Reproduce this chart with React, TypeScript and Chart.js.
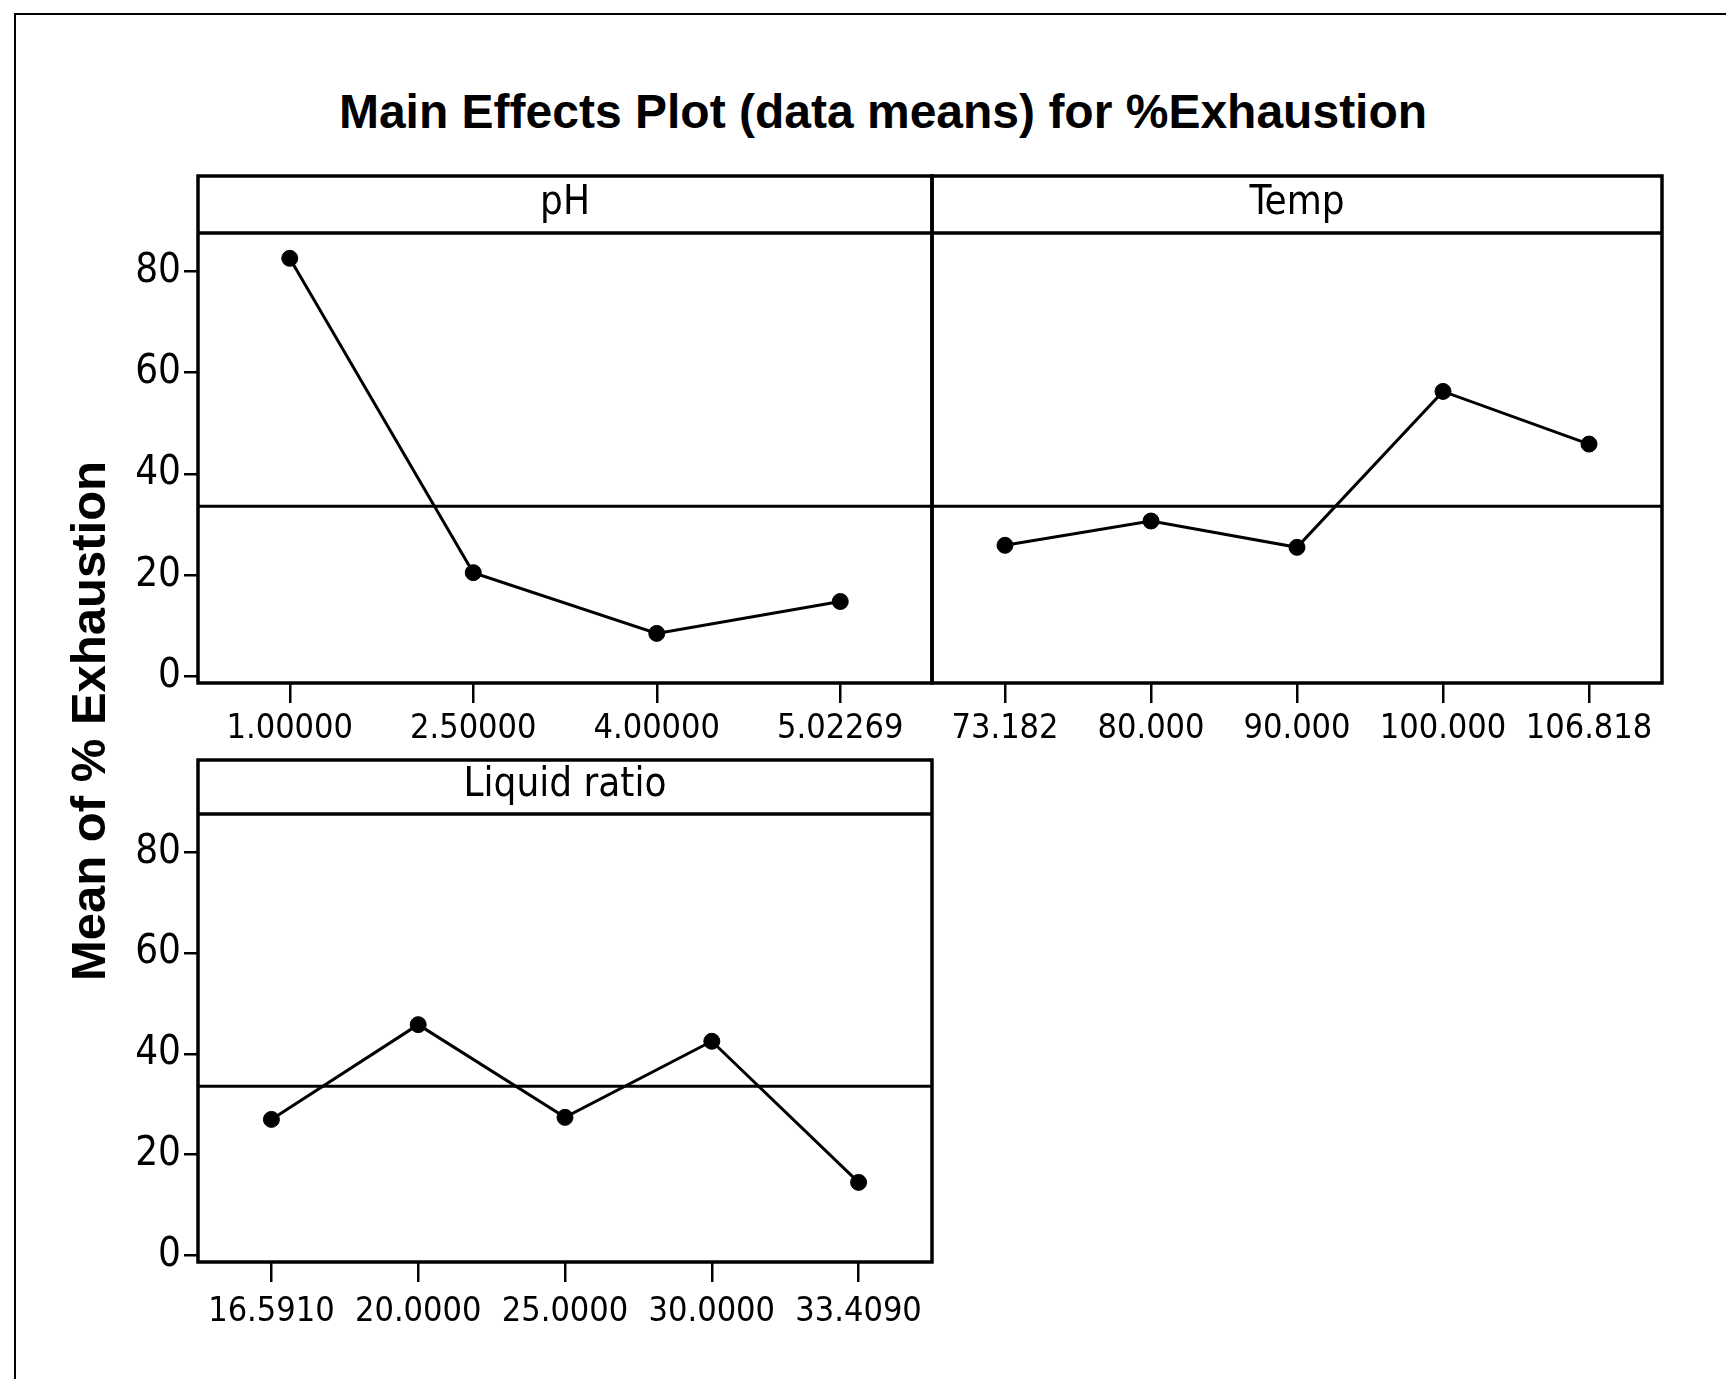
import React, { useEffect, useRef } from "react";
import { Chart, registerables } from "chart.js";

Chart.register(...registerables);

// ---------- data ----------
const phLevels = ["1.00000", "2.50000", "4.00000", "5.02269"];
const phMeans = [82.6, 20.5, 8.5, 14.8];

const tempLevels = ["73.182", "80.000", "90.000", "100.000", "106.818"];
const tempMeans = [25.9, 30.7, 25.5, 56.3, 45.9];

const liquidLevels = ["16.5910", "20.0000", "25.0000", "30.0000", "33.4090"];
const liquidMeans = [27.0, 45.8, 27.4, 42.5, 14.5];

const grandMean = 33.6;
const yTicks = [0, 20, 40, 60, 80];
const yMin = -1.3;
const yMax = 87.6;

const chartTitle = "Main Effects Plot (data means) for %Exhaustion";
const yAxisLabel = "Mean of % Exhaustion";

// ---------- styling ----------
const NARROW = '"DejaVu Sans Condensed", "Liberation Sans Narrow", "Liberation Sans", sans-serif';
const BOLD = '"Liberation Sans", Arial, sans-serif';

const panelFrame = {
  id: "panelFrame",
  beforeDatasetsDraw(chart: any, _args: any, opts: any) {
    const { ctx, chartArea, scales } = chart;
    const py = scales.y.getPixelForValue(opts.mean);
    ctx.save();
    ctx.strokeStyle = "#000";
    ctx.lineWidth = 3;
    ctx.beginPath();
    ctx.moveTo(chartArea.left, py);
    ctx.lineTo(chartArea.right, py);
    ctx.stroke();
    ctx.restore();
  },
  afterDraw(chart: any) {
    const { ctx, chartArea } = chart;
    const { left, right, top, bottom } = chartArea;
    const stripTop = chart.titleBlock ? chart.titleBlock.top : top - 57;
    ctx.save();
    ctx.strokeStyle = "#000";
    ctx.lineWidth = 3.5;
    ctx.strokeRect(left, stripTop, right - left, bottom - stripTop);
    ctx.beginPath();
    ctx.moveTo(left, top);
    ctx.lineTo(right, top);
    ctx.stroke();
    ctx.restore();
  },
};

type PanelProps = {
  name: string;
  levels: string[];
  means: number[];
  showY: boolean;
  left: number;
  top: number;
  width: number;
  height: number;
  stripPad: { top: number; bottom: number };
  xPad: number;
};

function Panel({ name, levels, means, showY, left, top, width, height, stripPad, xPad }: PanelProps) {
  const ref = useRef<HTMLCanvasElement>(null);

  useEffect(() => {
    if (!ref.current) return;
    const chart = new Chart(ref.current, {
      type: "line",
      data: {
        labels: levels,
        datasets: [
          {
            data: means,
            borderColor: "#000",
            backgroundColor: "#000",
            borderWidth: 3,
            pointRadius: 8,
            pointHoverRadius: 8,
            pointBackgroundColor: "#000",
            pointBorderColor: "#000",
            pointBorderWidth: 1,
            tension: 0,
            fill: false,
            clip: false,
          },
        ],
      },
      options: {
        responsive: false,
        animation: false,
        devicePixelRatio: 1,
        events: [],
        layout: { autoPadding: false, padding: { top: 6, left: showY ? 0 : 2, right: 2, bottom: 0 } },
        plugins: {
          legend: { display: false },
          tooltip: { enabled: false },
          title: {
            display: true,
            text: name,
            fullSize: false,
            color: "#000",
            font: { family: NARROW, size: 40, weight: "normal" },
            padding: stripPad,
          },
          panelFrame: { mean: grandMean },
        } as any,
        scales: {
          x: {
            type: "category",
            offset: true,
            grid: {
              display: true,
              drawOnChartArea: false,
              drawTicks: true,
              tickLength: 20,
              color: "#000",
              lineWidth: 2.5,
              offset: false,
            },
            border: { display: false },
            ticks: {
              color: "#000",
              font: { family: NARROW, size: 34 },
              padding: xPad,
              maxRotation: 0,
              autoSkip: false,
            },
            afterFit: (s: any) => {
              s.height = 76;
            },
          },
          y: {
            display: showY,
            min: yMin,
            max: yMax,
            afterBuildTicks: (s: any) => {
              s.ticks = yTicks.map((v) => ({ value: v }));
            },
            grid: {
              drawOnChartArea: false,
              drawTicks: true,
              tickLength: 14,
              color: "#000",
              lineWidth: 2.5,
            },
            border: { display: false },
            ticks: {
              color: "#000",
              font: { family: NARROW, size: 40 },
              padding: 3,
            },
            afterFit: (s: any) => {
              if (showY) s.width = 98;
            },
          },
        },
      } as any,
      plugins: [panelFrame as any],
    });
    return () => chart.destroy();
  }, []);

  return (
    <canvas
      ref={ref}
      width={width}
      height={height}
      style={{ position: "absolute", left, top, width, height }}
    />
  );
}

export default function App() {
  return (
    <div
      style={{
        position: "fixed",
        left: 0,
        top: 0,
        width: 1726,
        height: 1379,
        background: "#fff",
        overflow: "hidden",
      }}
    >
      <div
        style={{
          position: "absolute",
          left: 14,
          top: 13,
          width: 1726,
          height: 1400,
          borderTop: "2px solid #000",
          borderLeft: "2px solid #000",
        }}
      />
      <div
        style={{
          position: "absolute",
          left: 883,
          top: 112,
          transform: "translate(-50%, -50%)",
          whiteSpace: "nowrap",
          fontFamily: BOLD,
          fontWeight: "bold",
          fontSize: 48,
          lineHeight: "48px",
          color: "#000",
        }}
      >
        {chartTitle}
      </div>
      <div
        style={{
          position: "absolute",
          left: 88,
          top: 721,
          transform: "translate(-50%, -50%) rotate(-90deg)",
          whiteSpace: "nowrap",
          fontFamily: BOLD,
          fontWeight: "bold",
          fontSize: 49,
          lineHeight: "49px",
          color: "#000",
        }}
      >
        {yAxisLabel}
      </div>
      <Panel name="pH" levels={phLevels} means={phMeans} showY={true} left={100} top={170} width={834} height={589} stripPad={{ top: 4, bottom: 5 }} xPad={6} />
      <Panel name="Temp" levels={tempLevels} means={tempMeans} showY={false} left={930} top={170} width={734} height={589} stripPad={{ top: 4, bottom: 5 }} xPad={6} />
      <Panel name="Liquid ratio" levels={liquidLevels} means={liquidMeans} showY={true} left={100} top={754} width={834} height={584} stripPad={{ top: 2, bottom: 4 }} xPad={10} />
    </div>
  );
}
